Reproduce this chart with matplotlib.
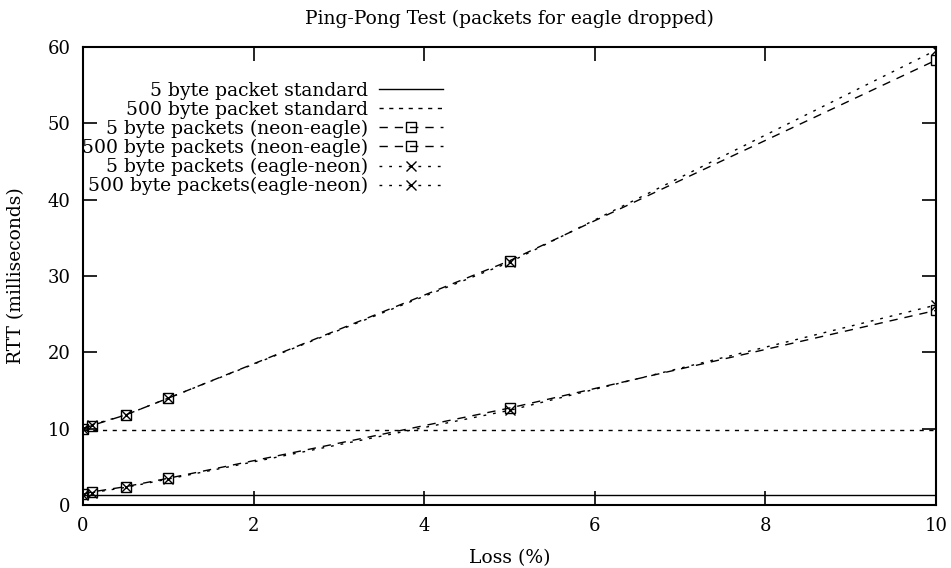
import matplotlib
matplotlib.use("Agg")
import matplotlib.pyplot as plt

plt.rcParams["font.family"] = "DejaVu Serif"

loss = [0, 0.1, 0.5, 1, 5, 10]
std_5 = 1.3
std_500 = 9.8
ne_5 = [1.4, 1.7, 2.4, 3.5, 12.7, 25.5]
ne_500 = [10.0, 10.4, 11.8, 14.0, 32.0, 58.3]
en_5 = [1.3, 1.6, 2.3, 3.4, 12.4, 26.2]
en_500 = [10.0, 10.5, 11.8, 14.0, 31.8, 59.6]

fig = plt.figure(figsize=(9.51, 5.68), dpi=100)
ax = fig.add_axes([0.0873, 0.111, 0.897, 0.806])

ax.axhline(std_5, color="k", lw=1.0, label="5 byte packet standard")
ax.axhline(std_500, color="k", lw=1.0, ls=(0, (3, 4)), label="500 byte packet standard")
ax.plot(loss, ne_5, color="k", lw=1.0, ls=(0, (6, 5)), marker="s", ms=7.5,
        mfc="none", mew=1.0, label="5 byte packets (neon-eagle)")
ax.plot(loss, ne_500, color="k", lw=1.0, ls=(0, (6, 5)), marker="s", ms=7.5,
        mfc="none", mew=1.0, label="500 byte packets (neon-eagle)")
ax.plot(loss, en_5, color="k", lw=1.0, ls=(0, (2, 5)), marker="x", ms=6.5,
        mew=1.0, label="5 byte packets (eagle-neon)")
ax.plot(loss, en_500, color="k", lw=1.0, ls=(0, (2, 5)), marker="x", ms=6.5,
        mew=1.0, label="500 byte packets(eagle-neon)")

ax.set_xlim(0, 10)
ax.set_ylim(0, 60)
ax.set_xticks([0, 2, 4, 6, 8, 10])
ax.set_yticks([0, 10, 20, 30, 40, 50, 60])
ax.tick_params(direction="in", length=10, width=1.2, top=True, right=True,
               labelsize=13, pad=9)
for s in ax.spines.values():
    s.set_linewidth(1.5)

ax.set_title("Ping-Pong Test (packets for eagle dropped)", fontsize=13.5, pad=17)
ax.set_xlabel("Loss (%)", fontsize=13.5, labelpad=10)
ax.set_ylabel("RTT (milliseconds)", fontsize=13.5, labelpad=16)

leg = ax.legend(loc="upper right", bbox_to_anchor=(0.433, 0.945), frameon=False,
                markerfirst=False, fontsize=13.5, handlelength=3.4, handletextpad=0.6,
                labelspacing=0.05, borderpad=0)

fig.savefig("out.png", dpi=100)
